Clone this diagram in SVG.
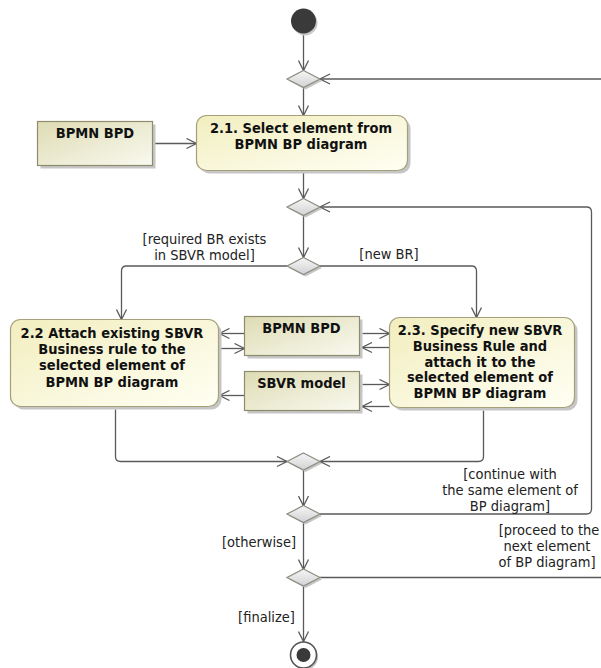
<svg xmlns="http://www.w3.org/2000/svg" width="601" height="668" viewBox="0 0 601 668">
<defs>
<style>
.c{fill:none;stroke:#5a5a5a;stroke-width:1.3}
.a{marker-end:url(#arr)}
.act{stroke:#a3a07a;stroke-width:1.2;fill:url(#gAct)}
.obj{stroke:#8e8c6c;stroke-width:1.2;fill:url(#gObj)}
.sh{fill:#c6c6c6}
.dec{fill:url(#gDec);stroke:#8c8c80;stroke-width:1.2}
.b{font-family:"DejaVu Sans Condensed","DejaVu Sans",sans-serif;font-stretch:condensed;font-weight:bold;font-size:14.5px;fill:#111;text-anchor:middle}
.l{font-family:"DejaVu Sans Condensed","DejaVu Sans",sans-serif;font-stretch:condensed;font-size:14.5px;fill:#222;text-anchor:middle}
</style>
<linearGradient id="gAct" x1="0" y1="0" x2="1" y2="1"><stop offset="0" stop-color="#f2eebf"/><stop offset="1" stop-color="#fffff4"/></linearGradient>
<linearGradient id="gObj" x1="0" y1="0" x2="1" y2="1"><stop offset="0" stop-color="#dedcb3"/><stop offset="1" stop-color="#f9f9f0"/></linearGradient>
<linearGradient id="gDec" x1="0" y1="0" x2="0" y2="1"><stop offset="0" stop-color="#f6f6f6"/><stop offset="1" stop-color="#d2d2d2"/></linearGradient>
<marker id="arr" viewBox="0 0 12 12" refX="11" refY="6" markerWidth="12" markerHeight="12" markerUnits="userSpaceOnUse" orient="auto"><path d="M1,1 L11,6 L1,11" fill="none" stroke="#5a5a5a" stroke-width="1.3"/></marker>
<polygon id="dia" points="0,-8.5 16.5,0 0,8.5 -16.5,0"/>
</defs>
<rect width="601" height="668" fill="#fff"/>

<g id="connectors">
<path class="c a" d="M303.5,33.5 V70.5"/>
<path class="c a" d="M601,79 H320"/>
<path class="c a" d="M303.5,87.5 V115.5"/>
<path class="c a" d="M152.5,143.5 H196.5"/>
<path class="c a" d="M303.5,170.5 V198.5"/>
<path class="c a" d="M320,514 H586.5 Q591.5,514 591.5,509 V212 Q591.5,207 586.5,207 H320"/>
<path class="c a" d="M303.5,215.5 V257.5"/>
<path class="c a" d="M287,266 H126.5 Q121.5,266 121.5,271 V319.5"/>
<path class="c a" d="M320,266 H471.5 Q476.5,266 476.5,271 V317.5"/>
<path class="c a" d="M244.5,333.5 H219.5"/>
<path class="c a" d="M219.5,348.5 H244.5"/>
<path class="c a" d="M362.5,333.5 H389.5"/>
<path class="c a" d="M389.5,347.5 H362"/>
<path class="c a" d="M362.5,384.5 H389.5"/>
<path class="c a" d="M389.5,406.5 H362"/>
<path class="c a" d="M244.5,395.5 H219.5"/>
<path class="c a" d="M115.5,409.5 V456.5 Q115.5,461.5 120.5,461.5 H287"/>
<path class="c a" d="M483.5,410.5 V456.5 Q483.5,461.5 478.5,461.5 H320"/>
<path class="c a" d="M303.5,470 V506"/>
<path class="c a" d="M303.5,522.5 V569.5"/>
<path class="c" d="M320,577.5 H601"/>
<path class="c a" d="M303.5,586 V641.5"/>
<text class="l" x="204.5" y="243.5">[required BR exists</text>
<text class="l" x="204.5" y="259.5">in SBVR model]</text>
<text class="l" x="389" y="258.5">[new BR]</text>
<text class="l" x="510" y="479">[continue with</text>
<text class="l" x="510" y="495">the same element of</text>
<text class="l" x="510" y="511">BP diagram]</text>
<text class="l" x="259" y="547">[otherwise]</text>
<text class="l" x="549" y="535">[proceed to the</text>
<text class="l" x="547" y="551">next element</text>
<text class="l" x="547" y="567">of BP diagram]</text>
<text class="l" x="266.5" y="622">[finalize]</text>
</g>

<g id="start">
<circle cx="305" cy="23" r="12.5" fill="#c6c6c6"/>
<circle cx="303.5" cy="21" r="12.5" fill="#3a3a3a"/>
</g>

<g id="decision1" transform="translate(303.5,79)">
<use href="#dia" class="sh" x="2" y="2"/><use href="#dia" class="dec"/>
</g>

<g id="bpd1">
<rect class="sh" x="40.5" y="124.5" width="115" height="44"/>
<rect class="obj" x="37.5" y="121.5" width="115" height="44"/>
<text class="b" x="95" y="138">BPMN BPD</text>
</g>

<g id="act21">
<rect class="sh" x="199.5" y="118.5" width="211" height="55" rx="10"/>
<rect class="act" x="196.5" y="115.5" width="211" height="55" rx="10"/>
<text class="b" x="301" y="132.5">2.1. Select element from</text>
<text class="b" x="301" y="148.8">BPMN BP diagram</text>
</g>

<g id="decision2" transform="translate(303.5,207)">
<use href="#dia" class="sh" x="2" y="2"/><use href="#dia" class="dec"/>
</g>

<g id="decision3" transform="translate(303.5,266)">
<use href="#dia" class="sh" x="2" y="2"/><use href="#dia" class="dec"/>
</g>

<g id="act22">
<rect class="sh" x="13.5" y="322.5" width="208" height="87" rx="10"/>
<rect class="act" x="10.5" y="319.5" width="208" height="87" rx="10"/>
<text class="b" x="112" y="337.7">2.2 Attach existing SBVR</text>
<text class="b" x="112" y="354">Business rule to the</text>
<text class="b" x="112" y="370.3">selected element of</text>
<text class="b" x="112" y="386.6">BPMN BP diagram</text>
</g>

<g id="bpd2">
<rect class="sh" x="247.5" y="319.5" width="115" height="39"/>
<rect class="obj" x="244.5" y="316.5" width="115" height="39"/>
<text class="b" x="301.5" y="333">BPMN BPD</text>
</g>

<g id="sbvr">
<rect class="sh" x="247.5" y="374.5" width="115" height="39"/>
<rect class="obj" x="244.5" y="371.5" width="115" height="39"/>
<text class="b" x="301.5" y="387.5">SBVR model</text>
</g>

<g id="act23">
<rect class="sh" x="392.5" y="320.5" width="185" height="90" rx="10"/>
<rect class="act" x="389.5" y="317.5" width="185" height="90" rx="10"/>
<text class="b" x="480" y="335">2.3. Specify new SBVR</text>
<text class="b" x="480" y="350.8">Business Rule and</text>
<text class="b" x="480" y="366.6">attach it to the</text>
<text class="b" x="480" y="382.4">selected element of</text>
<text class="b" x="480" y="398.2">BPMN BP diagram</text>
</g>

<g id="merge4" transform="translate(303.5,461.5)">
<use href="#dia" class="sh" x="2" y="2"/><use href="#dia" class="dec"/>
</g>

<g id="decision5" transform="translate(303.5,514)">
<use href="#dia" class="sh" x="2" y="2"/><use href="#dia" class="dec"/>
</g>

<g id="decision6" transform="translate(303.5,577.5)">
<use href="#dia" class="sh" x="2" y="2"/><use href="#dia" class="dec"/>
</g>

<g id="end">
<circle cx="305" cy="657" r="13" fill="#c6c6c6"/>
<circle cx="303.5" cy="655" r="13" fill="#fff" stroke="#555" stroke-width="1.6"/>
<circle cx="303.5" cy="655" r="7" fill="#3a3a3a"/>
</g>
</svg>
